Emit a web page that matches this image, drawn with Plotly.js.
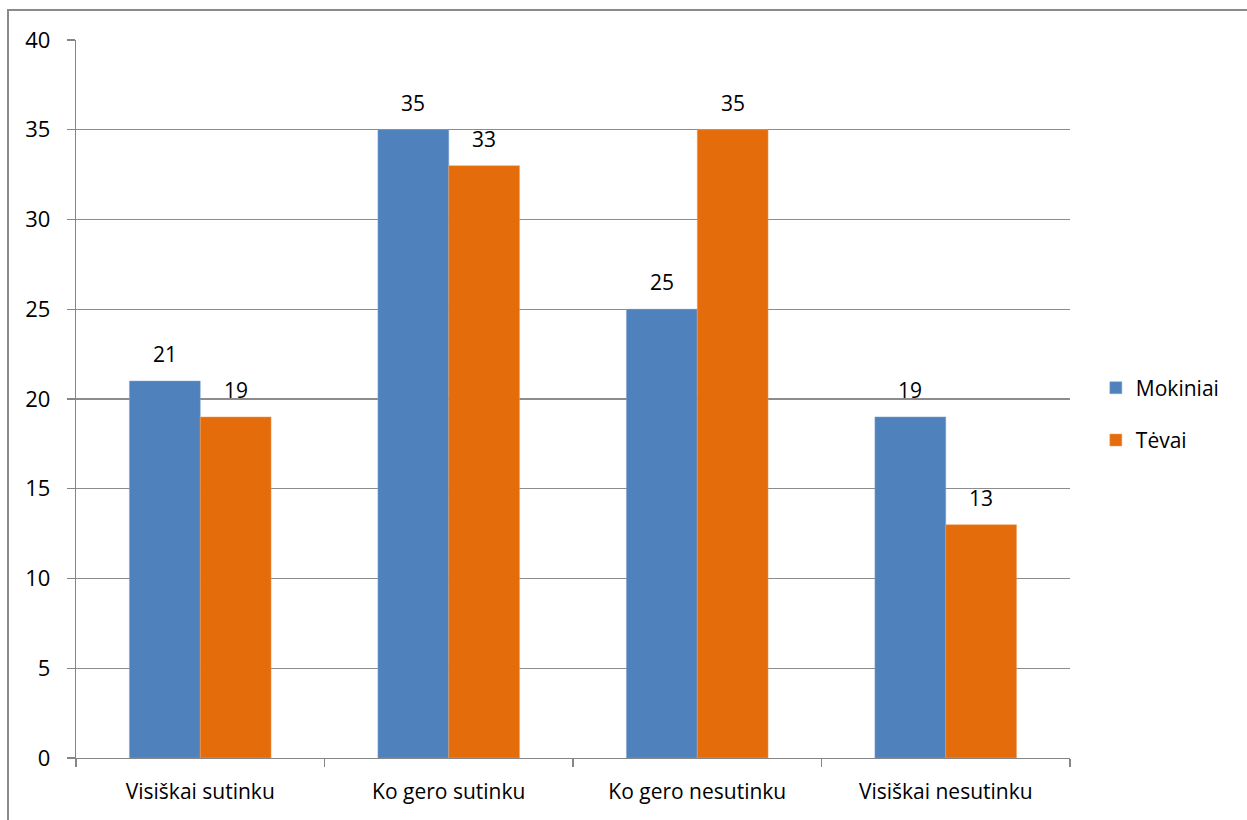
<!DOCTYPE html>
<html>
<head>
<meta charset="utf-8">
<script src="https://cdn.plot.ly/plotly-3.0.1.min.js"></script>
<style>
html,body{margin:0;padding:0;background:#fff;}
#wrap{position:relative;width:1247px;height:820px;}
#chart{width:1247px;height:820px;}
#frame{position:absolute;left:7px;top:9px;right:0;bottom:0;border-left:2px solid #8a8a8a;border-top:2px solid #8a8a8a;pointer-events:none;}
</style>
</head>
<body>
<div id="wrap"><div id="chart"></div><div id="frame"></div></div>
<script>
const categories = ["Visiškai sutinku", "Ko gero sutinku", "Ko gero nesutinku", "Visiškai nesutinku"];
const mokiniai = [21, 35, 25, 19];
const tevai = [19, 33, 35, 13];
const seriesNames = ["Mokiniai", "Tėvai"];
const yTicks = [0, 5, 10, 15, 20, 25, 30, 35, 40];

const FONT = "Open Sans, Noto Sans, sans-serif";
const FS = 22;
const blue = "#4F81BD", orange = "#E46C0A";

const traces = [
  {type: "bar", name: seriesNames[0], x: categories, y: mokiniai, marker: {color: blue, line:{color:"#7ea3d3", width:0.5}}, legendgroup: "a", hoverinfo: "none"},
  {type: "bar", name: seriesNames[1], x: categories, y: tevai, marker: {color: orange, line:{color:"#f0a060", width:0.5}}, legendgroup: "b", hoverinfo: "none"}
];

const annotations = [];
[mokiniai, tevai].forEach((vals, si) => {
  vals.forEach((v, i) => {
    annotations.push({
      x: categories[i], y: v, xref: "x", yref: "y",
      text: String(v), showarrow: false,
      xshift: si === 0 ? -35.5 : 35.5, yshift: 27,
      yanchor: "middle", xanchor: "center",
      font: {family: FONT, size: FS - 1, color: "#000"}
    });
  });
});

const layout = {
  width: 1247, height: 820,
  margin: {l: 76, r: 177, t: 40, b: 62, pad: 0},
  paper_bgcolor: "#fff", plot_bgcolor: "#fff",
  font: {family: FONT, size: FS, color: "#000"},
  barmode: "group", bargap: 0.43, bargroupgap: 0,
  xaxis: {
    type: "category", tickson: "boundaries", ticks: "outside", ticklen: 8,
    tickcolor: "#868686", tickwidth: 1.3, showline: true, linecolor: "#868686", linewidth: 1.3,
    showgrid: false, tickfont: {family: FONT, size: FS - 1, color: "#000"}, fixedrange: true,
    ticklabelstandoff: 14
  },
  yaxis: {
    range: [0, 40], tickvals: yTicks, ticks: "outside", ticklen: 8,
    tickcolor: "#868686", tickwidth: 1.3, showline: true, linecolor: "#868686", linewidth: 1.3,
    showgrid: true, gridcolor: "#8c8c8c", gridwidth: 1.2, zeroline: false,
    tickfont: {family: FONT, size: FS, color: "#000"}, fixedrange: true,
    ticklabelstandoff: 12
  },
  showlegend: true,
  legend: {
    x: 1.026, xanchor: "left", y: 0.479, yanchor: "middle",
    traceorder: "grouped", tracegroupgap: 22,
    font: {family: FONT, size: FS - 1, color: "#000"},
    bgcolor: "rgba(0,0,0,0)"
  },
  annotations: annotations
};

Plotly.newPlot("chart", traces, layout, {displayModeBar: false, staticPlot: true});
</script>
</body>
</html>
